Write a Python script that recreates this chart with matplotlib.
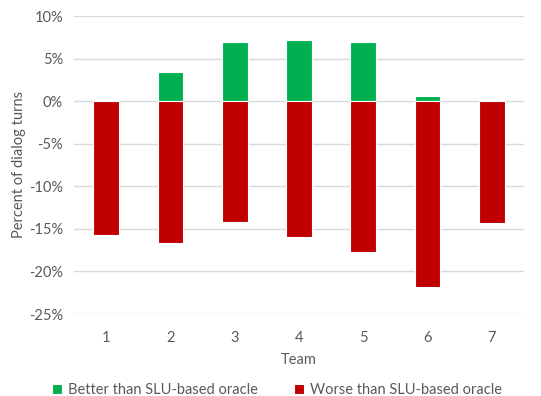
import matplotlib
matplotlib.use('Agg')
import matplotlib.pyplot as plt
from matplotlib.ticker import FuncFormatter

teams = ["1", "2", "3", "4", "5", "6", "7"]
better = [0.1, 3.4, 7.0, 7.2, 7.0, 0.6, 0.1]
worse = [-15.7, -16.7, -14.2, -16.0, -17.7, -21.8, -14.3]

GREEN = "#00B050"
RED = "#C00000"
TXT = "#595959"

plt.rcParams['font.family'] = ['Lato', 'DejaVu Sans']

fig = plt.figure(figsize=(5.41, 3.96), dpi=100)
ax = fig.add_axes([74/541, 1 - 314/396, 450/541, (314 - 16)/396])

x = range(len(teams))
ax.bar(x, better, width=0.4, color=GREEN, edgecolor="white", linewidth=0.8,
       label="Better than SLU-based oracle", zorder=3)
ax.bar(x, worse, width=0.4, color=RED, edgecolor="white", linewidth=0.8,
       label="Worse than SLU-based oracle", zorder=3)

ax.set_xlim(-0.5, len(teams) - 0.5)
ax.set_ylim(-25, 10)
ax.set_yticks(range(-25, 11, 5))
ax.yaxis.set_major_formatter(FuncFormatter(lambda v, p: "%d%%" % v))
ax.set_xticks(list(x))
ax.set_xticklabels(teams)
ax.grid(axis="y", color="#D9D9D9", linewidth=1, zorder=0)
for s in ax.spines.values():
    s.set_visible(False)
ax.tick_params(length=0, labelsize=10.5, colors=TXT, pad=8)
ax.tick_params(axis="x", pad=12)

ax.set_xlabel("Team", fontsize=10.5, color=TXT, labelpad=6)
ax.set_ylabel("Percent of dialog turns", fontsize=10.5, color=TXT, labelpad=2)

fig.legend(loc="lower center", bbox_to_anchor=(0.512, -0.035), ncol=2, frameon=False,
           fontsize=10.5, labelcolor=TXT, handlelength=0.7, handleheight=0.7,
           handletextpad=0.4, columnspacing=2.5)

fig.savefig("out.png", dpi=100)
